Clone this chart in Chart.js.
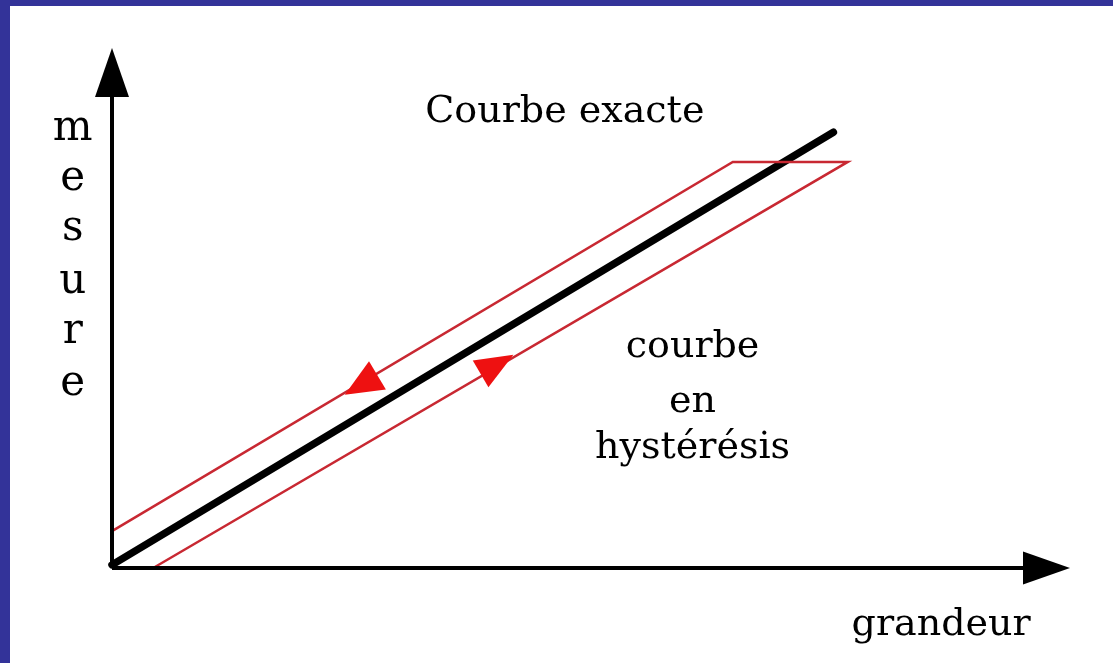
<!doctype html>
<html lang="fr">
<head>
<title>Courbe en hystérésis</title>
<meta charset="utf-8">
<script src="https://cdn.jsdelivr.net/npm/chart.js"></script>
<style>
html, body { margin: 0; padding: 0; background: #333399; }
#box { position: absolute; left: 10px; top: 6px; width: 1103px; height: 657px; background: #ffffff; }
</style>

<script>
// axes: 0..100 sur chaque axe (unités arbitraires)
const xLimits = [0, 100];
const yLimits = [0, 100];

// traits des axes (la flèche couvre le bout)
const axeX = [[0, 0], [95.1, 0]];
const axeY = [[0, 0], [0, 90.6]];

// courbe exacte
const exacte = [[0, 0.6], [75.3, 83.8]];

// courbe en hystérésis (montée en bas, descente en haut)
const hysteresis = [[0, 7.1], [64.8, 78.1], [76.8, 78.1], [4.3, 0]];

// pointes de flèches
const tipAxeX = [100, 0];
const tipAxeY = [0, 100];
const tipDescente = [24.3, 33.3];
const tipMontee = [41.9, 41.0];

// textes
const labelExacte = "Courbe exacte";
const labelHyst = ["courbe", "en", "hystérésis"];
const labelX = "grandeur";
const labelY = "mesure";

function pts(a) {
	return a.map(function(p) { return {x: p[0], y: p[1]}; });
}

// flèches : pointe + direction donnée par deux points
const arrows = [
	{tip: tipAxeY, from: axeY[0], to: tipAxeY, len: 49, wid: 34, color: '#000000'},
	{tip: tipAxeX, from: axeX[0], to: tipAxeX, len: 47, wid: 33, color: '#000000'},
	{tip: tipDescente, from: hysteresis[1], to: hysteresis[0], len: 38, wid: 33, color: '#ee1111'},
	{tip: tipMontee, from: hysteresis[3], to: hysteresis[2], len: 38, wid: 31, color: '#ee1111'}
];

const arrowPlugin = {
	id: 'arrows',
	afterDatasetsDraw(chart) {
		const ctx = chart.ctx, sx = chart.scales.x, sy = chart.scales.y;
		arrows.forEach(function(a) {
			const tx = sx.getPixelForValue(a.tip[0]), ty = sy.getPixelForValue(a.tip[1]);
			const dx = sx.getPixelForValue(a.to[0]) - sx.getPixelForValue(a.from[0]);
			const dy = sy.getPixelForValue(a.to[1]) - sy.getPixelForValue(a.from[1]);
			const n = Math.sqrt(dx * dx + dy * dy);
			const ux = dx / n, uy = dy / n;
			const bx = tx - ux * a.len, by = ty - uy * a.len;
			ctx.save();
			ctx.fillStyle = a.color;
			ctx.beginPath();
			ctx.moveTo(tx, ty);
			ctx.lineTo(bx - uy * a.wid / 2, by + ux * a.wid / 2);
			ctx.lineTo(bx + uy * a.wid / 2, by - ux * a.wid / 2);
			ctx.closePath();
			ctx.fill();
			ctx.restore();
		});
	}
};

const textPlugin = {
	id: 'textes',
	afterDraw(chart) {
		const ctx = chart.ctx, sx = chart.scales.x, sy = chart.scales.y;
		ctx.save();
		ctx.fillStyle = '#000000';
		ctx.textBaseline = 'alphabetic';
		ctx.font = '38px "DejaVu Serif"';
		ctx.textAlign = 'left';
		ctx.fillText(labelExacte, sx.getPixelForValue(32.7), sy.getPixelForValue(85.8));
		ctx.fillText(labelX, sx.getPixelForValue(77.2), sy.getPixelForValue(-12.9));
		ctx.textAlign = 'center';
		const hy = [40.6, 30.0, 21.2];
		labelHyst.forEach(function(s, i) {
			ctx.fillText(s, sx.getPixelForValue(60.6), sy.getPixelForValue(hy[i]));
		});
		// mesure, lettre par lettre
		ctx.font = '42px "DejaVu Serif"';
		const my = [82.3, 72.7, 63.1, 52.9, 43.3, 33.3];
		labelY.split('').forEach(function(c, i) {
			ctx.fillText(c, sx.getPixelForValue(-4.1), sy.getPixelForValue(my[i]));
		});
		ctx.restore();
	}
};

window.onload = function() {
	const data = {
		datasets: [
			{data: pts(axeX), borderColor: '#000000', borderWidth: 4},
			{data: pts(axeY), borderColor: '#000000', borderWidth: 4},
			{data: pts(hysteresis), borderColor: 'rgb(200,40,50)', borderWidth: 2.5},
			{data: pts(exacte), borderColor: '#000000', borderWidth: 7.5, borderCapStyle: 'round'}
		]
	};
	data.datasets.forEach(function(d) {
		d.showLine = true;
		d.pointRadius = 0;
		d.clip = false;
		d.fill = false;
	});
	const config = {
		type: 'scatter',
		data: data,
		options: {
			responsive: true,
			maintainAspectRatio: false,
			animation: false,
			layout: {padding: {left: 102, right: 43, top: 42, bottom: 95}},
			scales: {
				x: {type: 'linear', min: xLimits[0], max: xLimits[1], display: false},
				y: {type: 'linear', min: yLimits[0], max: yLimits[1], display: false}
			},
			plugins: {legend: {display: false}, tooltip: {enabled: false}}
		},
		plugins: [arrowPlugin, textPlugin]
	};
	new Chart(document.getElementById('myChart'), config);
}
</script>
</head>
<body>
<div id="box"><canvas id="myChart"></canvas></div>
</body>
</html>
